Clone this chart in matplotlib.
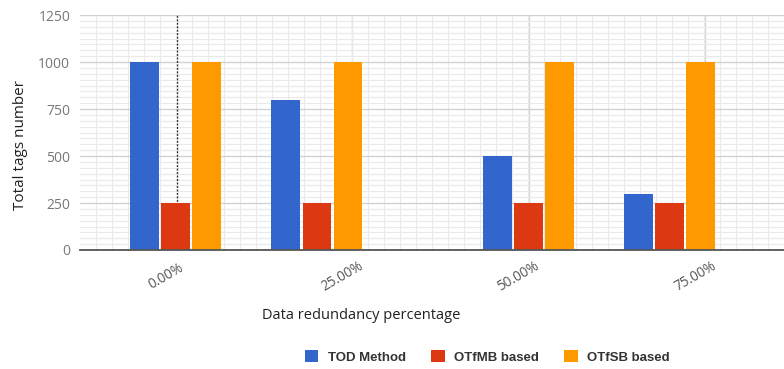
import matplotlib
matplotlib.use("Agg")
import matplotlib.pyplot as plt
import matplotlib.transforms as mtransforms
from matplotlib.ticker import MultipleLocator
from matplotlib.patches import Patch

categories = ["0.00%", "25.00%", "50.00%", "75.00%"]
tod_method = [1000, 800, 500, 300]
otfmb_based = [250, 250, 250, 250]
otfsb_based = [1000, 1000, 1000, 1000]
series_names = ["TOD Method", "OTfMB based", "OTfSB based"]
colors = ["#3366CC", "#DC3912", "#FF9900"]

group_pos = [0, 1, 2.5, 3.5]
tick_pos = [0, 1.25, 2.5, 3.75]
step = 0.22
width = 0.205

plt.rcParams['font.family'] = ['Open Sans', 'DejaVu Sans']
fig = plt.figure(figsize=(7.84, 3.69), dpi=100)
ax = fig.add_axes([0.102, 0.3225, 0.898, 0.6365])

# spreadsheet-like background grid
ax.set_xlim(-0.68, 4.31)
ax.set_ylim(0, 1250)
ax.yaxis.set_major_locator(MultipleLocator(250))
ax.yaxis.set_minor_locator(MultipleLocator(250 / 8))
ax.xaxis.set_minor_locator(MultipleLocator(0.1135))
ax.grid(which='minor', color='#eaeaea', linewidth=0.8)
ax.grid(which='major', axis='y', color='#d2d2d2', linewidth=1.0)
for xv in tick_pos[1:]:
    ax.axvline(xv, color='#d6d6d6', linewidth=1.0, zorder=0.5)
ax.axvline(0.007, color='#333333', linewidth=1.0, linestyle=(0, (1.5, 1)), zorder=0.6)
ax.set_axisbelow(True)

all_series = [tod_method, otfmb_based, otfsb_based]
for i, (vals, c, name) in enumerate(zip(all_series, colors, series_names)):
    xs = [g + (i - 1) * step for g in group_pos]
    ax.bar(xs, vals, width=width, color=c, label=name, zorder=2)

ax.set_xticks(tick_pos)
ax.set_xticklabels(categories, rotation=30, ha='center', va='center',
                   rotation_mode='anchor', color='#555555', fontsize=9.8)
ax.tick_params(axis='x', which='both', length=0, pad=19)
offset = mtransforms.ScaledTranslation(-0.10, 0, fig.dpi_scale_trans)
for lbl in ax.get_xticklabels():
    lbl.set_transform(lbl.get_transform() + offset)
ax.tick_params(axis='y', which='both', length=0, pad=7, labelsize=10, labelcolor='#777777')

for s in ['top', 'right', 'left']:
    ax.spines[s].set_visible(False)
ax.spines['bottom'].set_color('#555555')
ax.spines['bottom'].set_linewidth(1.3)
ax.spines['bottom'].set_zorder(3)

ax.set_ylabel("Total tags number", fontsize=11, color='#222222')
ax.yaxis.set_label_coords(-0.074, 0.447)
ax.set_xlabel("Data redundancy percentage", fontsize=10.5, color='#222222')
ax.xaxis.set_label_coords(0.40, -0.245)

handles = [Patch(facecolor=c, edgecolor='none') for c in colors]
leg = fig.legend(handles, series_names, loc='center', bbox_to_anchor=(0.622, 0.032),
                 ncol=3, frameon=False, handlelength=1.0, handleheight=1.0,
                 handletextpad=0.75, columnspacing=1.9,
                 prop={'family': ['Liberation Sans', 'DejaVu Sans'], 'weight': 'bold', 'size': 9.5})
for t in leg.get_texts():
    t.set_color('#333333')

fig.savefig("out.png", dpi=100)
